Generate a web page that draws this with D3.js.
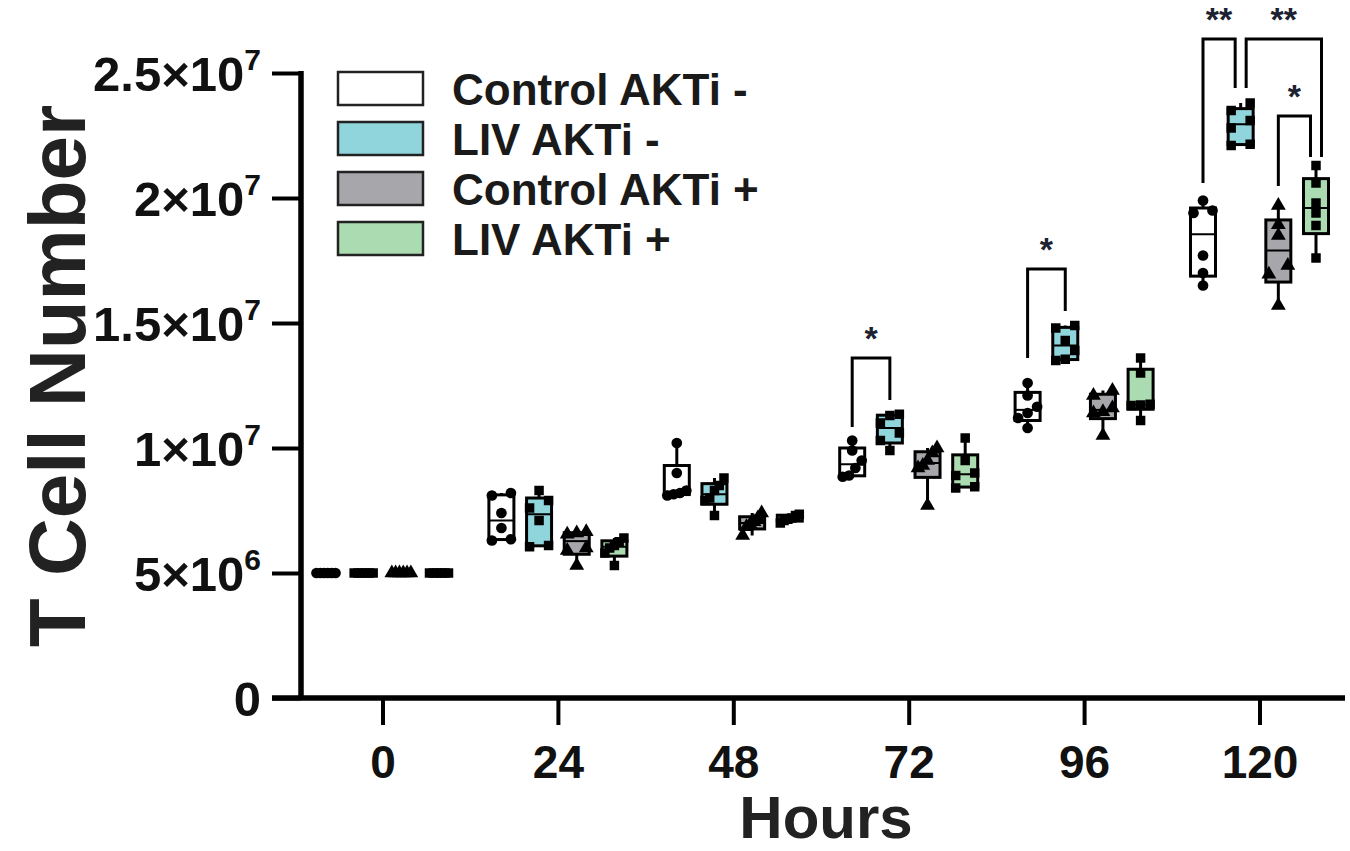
<!DOCTYPE html>
<html><head><meta charset="utf-8">
<script src="https://cdn.jsdelivr.net/npm/d3@7"></script>
<style>body{margin:0;background:#fff} svg{display:block}</style>
</head><body>
<svg id="c" width="1350" height="851"></svg>
<script>
// ---------- data ----------
const hours = [0, 24, 48, 72, 96, 120];
const groupNames = ["Control AKTi -", "LIV AKTi -", "Control AKTi +", "LIV AKTi +"];
const yTickValues = [0, 5e6, 1e7, 1.5e7, 2e7, 2.5e7];
const yTickBase = ["0", "5×10", "1×10", "1.5×10", "2×10", "2.5×10"];
const yTickExp  = ["", "6", "7", "7", "7", "7"];
const xLabel = "Hours";
const yLabel = "T Cell Number";

// one row per time point (0,24,48,72,96,120), six replicates each
const controlMinus = [
  [5e6, 5e6, 5e6, 5e6, 5e6, 5e6],
  [6.3e6, 6.35e6, 6.8e6, 7.4e6, 8.1e6, 8.2e6],
  [8.1e6, 8.15e6, 8.2e6, 8.3e6, 9.0e6, 1.02e7],
  [8.85e6, 8.9e6, 9.2e6, 9.5e6, 9.9e6, 1.03e7],
  [1.08e7, 1.12e7, 1.14e7, 1.165e7, 1.21e7, 1.26e7],
  [1.65e7, 1.70e7, 1.77e7, 1.94e7, 1.95e7, 1.99e7]
];
const livMinus = [
  [5e6, 5e6, 5e6, 5e6, 5e6, 5e6],
  [6.05e6, 6.1e6, 7.1e6, 7.6e6, 7.9e6, 8.3e6],
  [7.3e6, 7.9e6, 8.0e6, 8.3e6, 8.5e6, 8.8e6],
  [9.9e6, 1.03e7, 1.06e7, 1.10e7, 1.13e7, 1.135e7],
  [1.35e7, 1.355e7, 1.39e7, 1.43e7, 1.48e7, 1.49e7],
  [2.21e7, 2.215e7, 2.28e7, 2.31e7, 2.35e7, 2.38e7]
];
const controlPlus = [
  [5e6, 5e6, 5e6, 5e6, 5e6, 5e6],
  [5.3e6, 5.9e6, 6.0e6, 6.55e6, 6.6e6, 6.65e6],
  [6.5e6, 6.85e6, 6.95e6, 7.05e6, 7.2e6, 7.4e6],
  [7.7e6, 9.2e6, 9.3e6, 9.5e6, 9.8e6, 1.0e7],
  [1.05e7, 1.14e7, 1.145e7, 1.16e7, 1.21e7, 1.23e7],
  [1.57e7, 1.695e7, 1.73e7, 1.85e7, 1.893e7, 1.97e7]
];
const livPlus = [
  [5e6, 5e6, 5e6, 5e6, 5e6, 5e6],
  [5.3e6, 5.8e6, 6.0e6, 6.1e6, 6.25e6, 6.4e6],
  [7.0e6, 7.1e6, 7.15e6, 7.2e6, 7.3e6, 7.35e6],
  [8.4e6, 8.45e6, 8.9e6, 9.0e6, 9.5e6, 1.04e7],
  [1.11e7, 1.17e7, 1.172e7, 1.175e7, 1.30e7, 1.36e7],
  [1.76e7, 1.89e7, 1.94e7, 1.98e7, 2.06e7, 2.13e7]
];
const seriesValues = [controlMinus, livMinus, controlPlus, livPlus];

// significance comparisons: hour, group a, group b, bracket top, leg ends, label
const compHour  = [72, 96, 120, 120, 120];
const compA     = [0, 0, 0, 1, 2];
const compB     = [1, 1, 1, 3, 3];
const compTop   = [1.36e7, 1.716e7, 2.636e7, 2.636e7, 2.328e7];
const compLegA  = [1.084e7, 1.36e7, 2.06e7, 2.44e7, 2.048e7];
const compLegB  = [1.192e7, 1.548e7, 2.44e7, 2.164e7, 2.164e7];
const compLabel = ["*", "*", "**", "**", "*"];

// ---------- styles ----------
const fills = ["#ffffff", "#90d4dc", "#a6a6ab", "#abdbb0"];
const symbols = [d3.symbolCircle, d3.symbolSquare, d3.symbolTriangle, d3.symbolSquare];
const FONT = "'Liberation Sans', Arial, Helvetica, sans-serif";

const svg = d3.select("#c");
const x = d3.scaleLinear().domain([0, 120]).range([382.5, 1259.5]);
const y = d3.scaleLinear().domain([0, 2.5e7]).range([698, 73]);
const groupOffset = d3.scalePoint().domain(d3.range(4)).range([-56.5, 56.5]);
const boxW = 25;
const gx = (h, g) => x(h) + groupOffset(g);

// GraphPad style quantile ((n+1)p)
function gpQuantile(sorted, p) {
  const n = sorted.length;
  let h = (n + 1) * p;
  if (h <= 1) return sorted[0];
  if (h >= n) return sorted[n - 1];
  const i = Math.floor(h);
  return sorted[i - 1] + (h - i) * (sorted[i] - sorted[i - 1]);
}

// ---------- boxes ----------
const gBoxes = svg.append("g");
seriesValues.forEach((rows, g) => {
  rows.forEach((vals, hi) => {
    const h = hours[hi];
    const s = vals.slice().sort((a, b) => a - b);
    const q1 = gpQuantile(s, 0.25), med = d3.median(s), q3 = gpQuantile(s, 0.75);
    const mn = s[0], mx = s[s.length - 1];
    const cx = gx(h, g);
    const grp = gBoxes.append("g");
    grp.append("line").attr("x1", cx).attr("x2", cx).attr("y1", y(mx)).attr("y2", y(q3))
      .attr("stroke", "#000").attr("stroke-width", 3);
    grp.append("line").attr("x1", cx).attr("x2", cx).attr("y1", y(q1)).attr("y2", y(mn))
      .attr("stroke", "#000").attr("stroke-width", 3);
    grp.append("rect").attr("x", cx - boxW / 2).attr("width", boxW)
      .attr("y", y(q3)).attr("height", Math.max(0, y(q1) - y(q3)))
      .attr("fill", fills[g]).attr("stroke", "#000").attr("stroke-width", 3);
    grp.append("line").attr("x1", cx - boxW / 2).attr("x2", cx + boxW / 2)
      .attr("y1", y(med)).attr("y2", y(med)).attr("stroke", "#000").attr("stroke-width", 2);
    // spread overlapping points
    const py = s.map(v => y(v));
    const clusters = [];
    py.forEach((p, i) => {
      if (i > 0 && Math.abs(p - py[i - 1]) < 9) clusters[clusters.length - 1].push(i);
      else clusters.push([i]);
    });
    const sym = d3.symbol().type(symbols[g]).size(g === 2 ? 95 : 90);
    clusters.forEach(cl => {
      const n = cl.length;
      const step = n > 1 ? (boxW - 6) / (n - 1) : 0;
      cl.forEach((idx, k) => {
        const dx = (k - (n - 1) / 2) * step;
        grp.append("path").attr("d", sym())
          .attr("transform", `translate(${cx + dx},${py[idx]})`)
          .attr("fill", "#000");
      });
    });
  });
});

// ---------- axes ----------
const xAxis = d3.axisBottom(x).tickValues(hours).tickSize(27).tickSizeOuter(0).tickPadding(20);
const gx_ = svg.append("g").attr("transform", "translate(0,698)").call(xAxis);
gx_.select(".domain").remove();
gx_.selectAll(".tick line").attr("stroke", "#000").attr("stroke-width", 4);
gx_.selectAll(".tick text").attr("font-family", FONT).attr("font-weight", "bold")
  .attr("font-size", 46).attr("fill", "#111").attr("dy", "0.71em");

const yAxis = d3.axisLeft(y).tickValues(yTickValues).tickSize(29).tickSizeOuter(0).tickPadding(10)
  .tickFormat(() => "");
const gy_ = svg.append("g").attr("transform", "translate(301,0)").call(yAxis);
gy_.select(".domain").remove();
gy_.selectAll(".tick line").attr("stroke", "#000").attr("stroke-width", 4);
gy_.selectAll(".tick text").each(function (d, i) {
  const t = d3.select(this).attr("font-family", FONT).attr("font-weight", "bold")
    .attr("font-size", 49).attr("fill", "#111").attr("dy", "0.36em").attr("x", -40);
  t.text(null);
  t.append("tspan").text(yTickBase[i]);
  if (yTickExp[i]) t.append("tspan").attr("font-size", 30).attr("dy", "-0.72em").text(yTickExp[i]);
});

svg.append("line").attr("x1", 301).attr("x2", 301).attr("y1", 71).attr("y2", 700)
  .attr("stroke", "#000").attr("stroke-width", 5.5);
svg.append("line").attr("x1", 272).attr("x2", 1345).attr("y1", 698).attr("y2", 698)
  .attr("stroke", "#000").attr("stroke-width", 5.5);

// axis titles
svg.append("text").attr("transform", "translate(85,376) rotate(-90)")
  .attr("text-anchor", "middle").attr("font-family", FONT).attr("font-weight", "bold")
  .attr("font-size", 80).attr("fill", "#222").text(yLabel);
svg.append("text").attr("x", 826).attr("y", 838).attr("text-anchor", "middle")
  .attr("font-family", FONT).attr("font-weight", "bold").attr("font-size", 60)
  .attr("fill", "#222").text(xLabel);

// ---------- legend ----------
const leg = svg.append("g");
groupNames.forEach((name, i) => {
  leg.append("rect").attr("x", 338).attr("y", 72 + 50 * i).attr("width", 85).attr("height", 33)
    .attr("fill", fills[i]).attr("stroke", "#222").attr("stroke-width", 2.5);
  leg.append("text").attr("x", 452).attr("y", 105 + 50 * i).attr("font-family", FONT)
    .attr("font-weight", "bold").attr("font-size", 44).attr("fill", "#1a1a1a").text(name);
});

// ---------- significance brackets ----------
const legDx = compHour.map(() => [0, 0]);
compHour.forEach((h, i) => {
  compHour.forEach((h2, j) => {
    if (j <= i || h2 !== h) return;
    [[0, compA[i]], [1, compB[i]]].forEach(([si, gi]) => {
      [[0, compA[j]], [1, compB[j]]].forEach(([sj, gj]) => {
        if (gi !== gj) return;
        const otherI = si === 0 ? compB[i] : compA[i];
        const otherJ = sj === 0 ? compB[j] : compA[j];
        if ((otherI - gi) * (otherJ - gj) < 0) {
          legDx[i][si] = 5.5 * Math.sign(otherI - gi);
          legDx[j][sj] = 5.5 * Math.sign(otherJ - gj);
        } else {
          const iOuter = compTop[i] > compTop[j];
          const away = -Math.sign(otherI - gi);
          legDx[i][si] = (iOuter ? 5.5 : -5.5) * away;
          legDx[j][sj] = (iOuter ? -5.5 : 5.5) * away;
        }
      });
    });
  });
});
const gSig = svg.append("g");
compHour.forEach((h, i) => {
  const xa = gx(h, compA[i]) + legDx[i][0];
  const xb = gx(h, compB[i]) + legDx[i][1];
  const yt = y(compTop[i]);
  gSig.append("path")
    .attr("d", `M${xa},${y(compLegA[i])}V${yt}H${xb}V${y(compLegB[i])}`)
    .attr("fill", "none").attr("stroke", "#000").attr("stroke-width", 3);
  gSig.append("text").attr("x", (xa + xb) / 2).attr("y", yt - 28 + 20)
    .attr("text-anchor", "middle").attr("font-family", FONT).attr("font-size", 34)
    .attr("font-weight", "bold").attr("fill", "#1c2230").text(compLabel[i]);
});
</script>
</body></html>
